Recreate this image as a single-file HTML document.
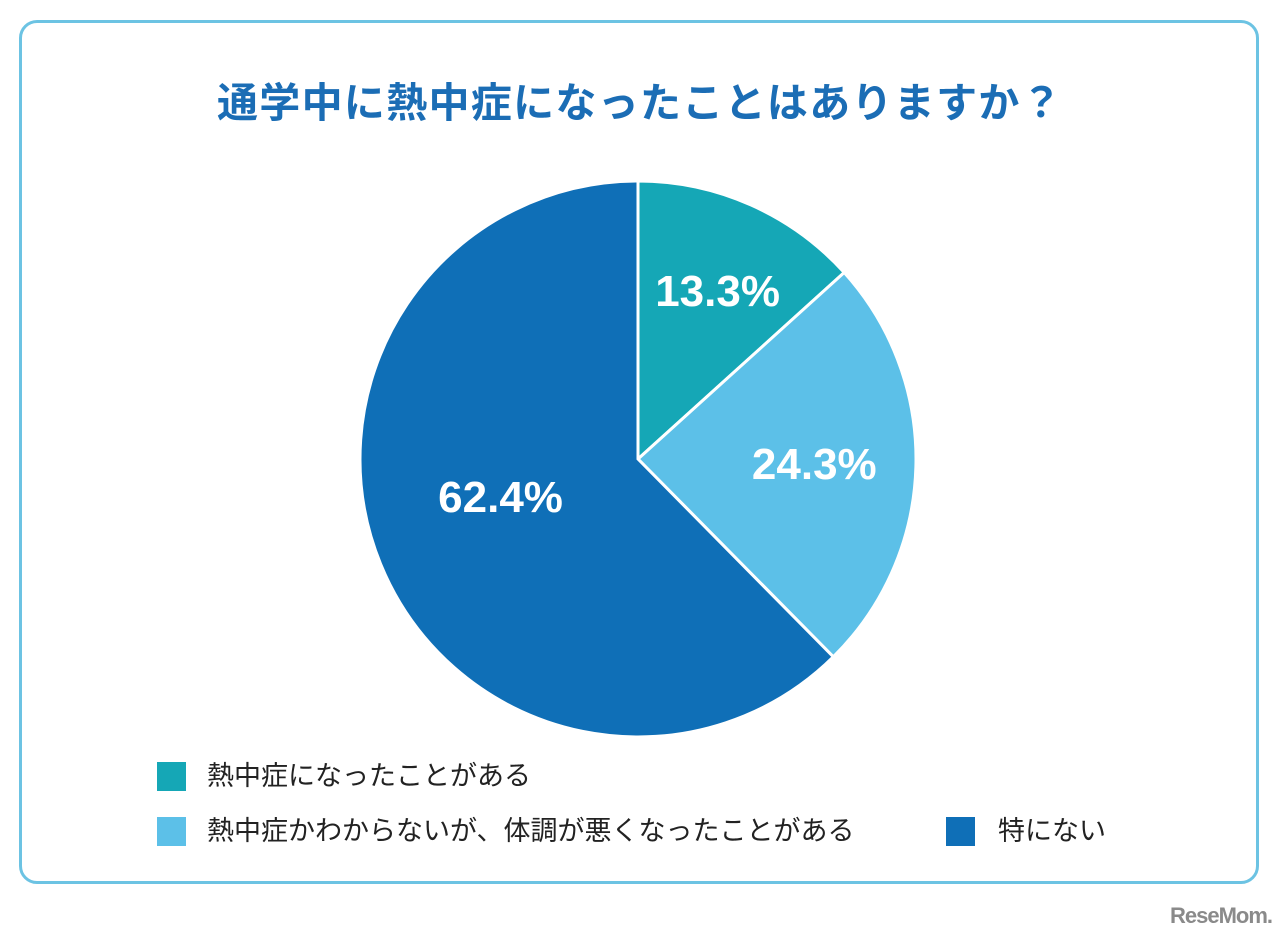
<!DOCTYPE html>
<html><head><meta charset="utf-8"><style>
body{margin:0;width:1280px;height:946px;background:#fff;overflow:hidden;font-family:"Liberation Sans","Noto Sans CJK JP",sans-serif;}
#frame{position:absolute;left:19px;top:20px;width:1234px;height:858px;border:3px solid #6cc3e3;border-radius:18px;}
#title{position:absolute;left:0;width:1280px;top:78px;text-align:center;font-size:41px;font-weight:bold;color:#1b6db5;letter-spacing:1.3px;line-height:50px;}
.sq{position:absolute;width:29px;height:29px;}
.lt{position:absolute;font-size:27px;color:#222;line-height:29px;}
#logo{position:absolute;left:1170px;top:903px;font-size:22px;font-weight:bold;color:#8a8a8a;letter-spacing:-1px;}
</style></head><body>
<div id="frame"></div>
<div id="title">通学中に熱中症になったことはありますか？</div>
<svg id="pie" width="1280" height="946" style="position:absolute;left:0;top:0"></svg>
<div class="sq" style="left:157px;top:762px;background:#15a7b6"></div>
<div class="lt" style="left:207px;top:762px">熱中症になったことがある</div>
<div class="sq" style="left:157px;top:817px;background:#5cc0e8"></div>
<div class="lt" style="left:207px;top:817px">熱中症かわからないが、体調が悪くなったことがある</div>
<div class="sq" style="left:946px;top:817px;background:#0f6fb7"></div>
<div class="lt" style="left:998px;top:817px">特にない</div>
<div id="logo">ReseMom.</div>
<script>
const categories=["熱中症になったことがある","熱中症かわからないが、体調が悪くなったことがある","特にない"];
const values=[13.3,24.3,62.4];
const colors=["#15a7b6","#5cc0e8","#0f6fb7"];
const cx=638,cy=459,r=278;
const svg=document.getElementById('pie');
const NS="http://www.w3.org/2000/svg";
const total=values.reduce((a,b)=>a+b,0);
let a0=0;
const labelR=[0.67,0.62,0.55];
const labelDy=[2,0,-20];
values.forEach((v,i)=>{
  const a1=a0+v/total*Math.PI*2;
  const x0=cx+r*Math.sin(a0),y0=cy-r*Math.cos(a0);
  const x1=cx+r*Math.sin(a1),y1=cy-r*Math.cos(a1);
  const p=document.createElementNS(NS,'path');
  p.setAttribute('d',`M${cx},${cy}L${x0},${y0}A${r},${r} 0 ${a1-a0>Math.PI?1:0} 1 ${x1},${y1}Z`);
  p.setAttribute('fill',colors[i]);p.setAttribute('stroke','#fff');p.setAttribute('stroke-width','3');
  
  
  svg.appendChild(p);
  a0=a1;
});
a0=0;
values.forEach((v,i)=>{
  const a1=a0+v/total*Math.PI*2,am=(a0+a1)/2;
  const t=document.createElementNS(NS,'text');
  t.setAttribute('x',cx+r*labelR[i]*Math.sin(am)+4);t.setAttribute('y',cy-r*labelR[i]*Math.cos(am)+15+labelDy[i]);
  t.setAttribute('text-anchor','middle');t.setAttribute('fill','#fff');t.setAttribute('font-size','44');t.setAttribute('font-weight','bold');
  t.setAttribute('font-family','"Liberation Sans",sans-serif');
  t.textContent=v.toFixed(1)+'%';
  
  
  svg.appendChild(t);
  a0=a1;
});
</script>
</body></html>
